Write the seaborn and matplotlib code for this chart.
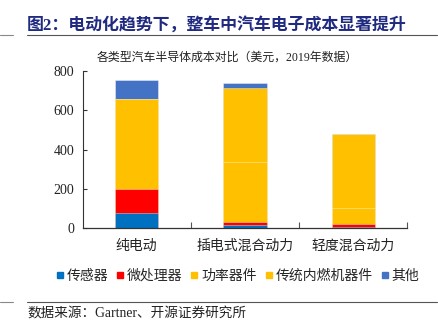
import matplotlib
matplotlib.use("Agg")
import matplotlib.pyplot as plt
from matplotlib.lines import Line2D
from matplotlib.ticker import FixedLocator
import numpy as np
import pandas as pd
import seaborn as sns

# 2019 semiconductor cost per vehicle type (USD)
categories = ["纯电动", "插电式混合动力", "轻度混合动力"]
components = ["传感器", "微处理器", "功率器件", "传统内燃机器件", "其他"]
sensor = [78, 14, 5]
microprocessor = [122, 18, 17]
power_devices = [457, 303, 80]
ice_devices = [0, 378, 375]
other = [97, 26, 0]
colors = ["#0070C0", "#FF0000", "#FFC000", "#FFC000", "#4472C4"]
yticks = [0, 200, 400, 600, 800]

series = [sensor, microprocessor, power_devices, ice_devices, other]
df = pd.DataFrame({"category": categories})
for name, vals in zip(components, series):
    df[name] = vals
cum = df[components].cumsum(axis=1)

sns.set_theme(style="white")
cjk = ["Noto Sans CJK SC", "DejaVu Sans"]
serif_cjk = ["Liberation Serif", "Noto Sans CJK SC", "DejaVu Sans"]
plt.rcParams["font.family"] = cjk
plt.rcParams["axes.unicode_minus"] = False

fig = plt.figure(figsize=(4.39, 3.32), dpi=100)
ax = fig.add_axes([0.188, 0.313, 0.740, 0.473])

# stacked bars: draw cumulative totals from the top layer downwards
for name, col in reversed(list(zip(components, colors))):
    sns.barplot(x=df["category"], y=cum[name], color=col, width=0.4,
                edgecolor=(1, 1, 1, 0.45), linewidth=0.6, ax=ax,
                saturation=1, order=categories)

ax.set_xlim(-0.5, 2.5)
ax.set_ylim(0, 800)
ax.set_yticks(yticks)
ax.set_yticklabels([str(v) for v in yticks], family="Liberation Serif",
                   fontsize=10, color="#222222")
ax.set_xlabel("")
ax.set_ylabel("")
ax.set_xticks(range(len(categories)))
ax.set_xticklabels(categories, fontsize=10, color="#222222", family=cjk)
ax.tick_params(axis="x", which="major", length=0, pad=8)
ax.xaxis.set_minor_locator(FixedLocator([0.5, 1.5, 2.5]))
ax.tick_params(axis="x", which="minor", direction="in", length=4,
               width=0.8, color="#555555", bottom=True)
ax.tick_params(axis="y", which="major", direction="in", length=3,
               width=0.8, color="#333333", left=True, pad=6)
for side in ["top", "right"]:
    ax.spines[side].set_visible(False)
ax.spines["left"].set_color("#333333")
ax.spines["left"].set_linewidth(0.8)
ax.spines["bottom"].set_color("#333333")
ax.spines["bottom"].set_linewidth(0.9)

# legend
handles = [Line2D([], [], marker="s", linestyle="none", markersize=5,
                  markerfacecolor=c, markeredgecolor=c) for c in colors]
fig.legend(handles, components, loc="center", bbox_to_anchor=(0.54, 0.170),
           ncol=5, frameon=False, handlelength=0.7,
           handletextpad=0.15, columnspacing=0.5, borderpad=0,
           prop={"family": cjk, "size": 10})

# title block
fig.text(0.062, 0.922, "图2：电动化趋势下，整车中汽车电子成本显著提升",
         fontsize=12.2, fontweight="bold", color="#1F2A80", va="center",
         ha="left", family=serif_cjk)
fig.add_artist(Line2D([0.0, 0.03], [0.894, 0.894], color="#888888", lw=0.8))
fig.add_artist(Line2D([0.062, 0.995], [0.894, 0.894], color="#555555", lw=0.8))
fig.text(0.517, 0.826, "各类型汽车半导体成本对比（美元，2019年数据）",
         fontsize=8.6, color="#222222", ha="center", va="center",
         family=serif_cjk)

# source footer
fig.add_artist(Line2D([0.0, 0.03], [0.091, 0.091], color="#888888", lw=0.8))
fig.add_artist(Line2D([0.062, 0.995], [0.091, 0.091], color="#555555", lw=0.8))
fig.text(0.062, 0.055, "数据来源：Gartner、开源证券研究所", fontsize=9.8,
         color="#222222", ha="left", va="center", family=serif_cjk)

fig.savefig("out.png", dpi=100)
